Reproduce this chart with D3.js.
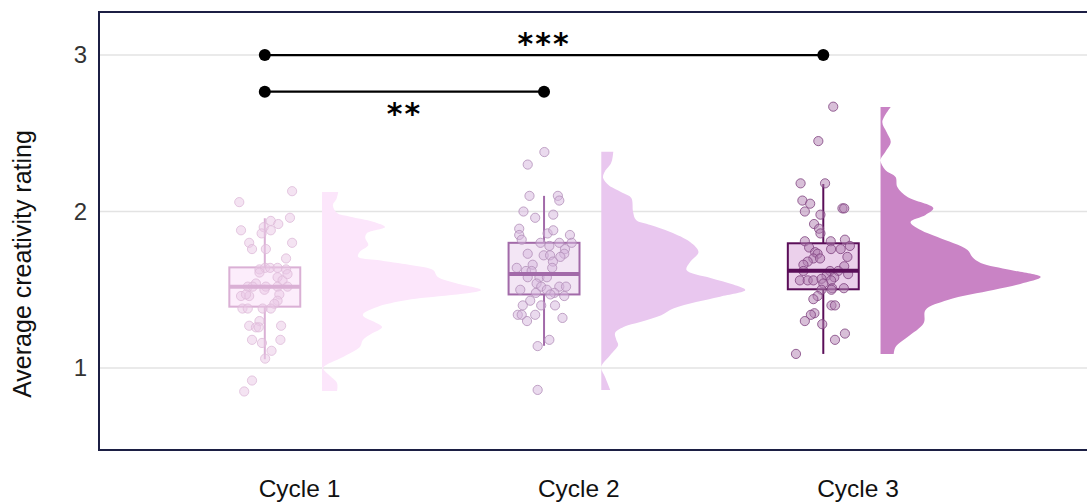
<!DOCTYPE html>
<html>
<head>
<meta charset="utf-8">
<script src="https://cdn.jsdelivr.net/npm/d3@7"></script>
<style>
  html, body { margin: 0; padding: 0; background: #fff; overflow: hidden; }
  svg { display: block; }
</style>
</head>
<body>
<svg id="chart" width="1087" height="502"></svg>
<script>
// ---------------- DATA ----------------
const categories = ["Cycle 1", "Cycle 2", "Cycle 3"];
const yTicks = [1, 2, 3];
const yLabel = "Average creativity rating";

// box-plot statistics: [lower whisker, Q1, median, Q3, upper whisker]
const box1 = [1.056, 1.392, 1.52, 1.643, 1.957];
const box2 = [1.142, 1.47, 1.60, 1.80, 2.10];
const box3 = [1.09, 1.503, 1.622, 1.797, 2.176];

// raw points: [rating, horizontal jitter as fraction of half box width]
const points1 = [
  [2.06,-0.72],[2.13,0.77],[1.88,-0.67],[1.94,0.17],[1.90,-0.03],[1.86,-0.09],[1.88,0.17],
  [1.92,0.38],[1.96,0.71],[1.80,-0.44],[1.76,-0.36],[1.76,0.03],[1.80,0.77],[1.70,0.60],
  [1.63,-0.15],[1.64,0.01],[1.64,0.15],[1.64,0.36],[1.63,0.60],[1.58,0.36],[1.56,0.50],
  [1.60,0.64],[1.54,-0.25],[1.52,-0.48],[1.52,-0.34],[1.52,0.03],[1.52,0.36],[1.52,0.64],
  [1.50,-0.01],[1.46,-0.67],[1.46,-0.44],[1.47,-0.53],[1.47,0.41],[1.43,0.36],[1.41,0.27],
  [1.38,-0.63],[1.38,-0.48],[1.38,-0.06],[1.38,0.17],[1.30,-0.15],[1.27,-0.44],[1.26,-0.25],
  [1.26,-0.17],[1.27,0.46],[1.18,-0.36],[1.18,0.44],[1.16,-0.08],[1.11,0.19],[1.06,0.01],
  [0.92,-0.36],[0.85,-0.58],[1.61,-0.15]
];
const points2 = [
  [2.38,0.01],[2.30,-0.46],[2.10,-0.41],[2.10,0.39],[2.07,0.43],[2.00,-0.58],[1.96,-0.25],
  [1.98,0.26],[1.89,-0.70],[1.85,-0.70],[1.82,-0.63],[1.86,0.10],[1.88,0.26],[1.85,0.73],
  [1.80,-0.10],[1.78,0.15],[1.80,0.43],[1.80,0.78],[1.76,0.59],[1.73,0.57],[1.73,-0.46],
  [1.72,-0.01],[1.72,0.17],[1.71,0.46],[1.68,0.25],[1.66,-0.32],[1.64,-0.77],[1.64,0.23],
  [1.62,-0.51],[1.62,-0.35],[1.58,-0.46],[1.58,-0.13],[1.58,0.08],[1.54,-0.21],[1.52,-0.08],
  [1.50,-0.67],[1.52,0.43],[1.52,0.62],[1.50,0.08],[1.48,0.29],[1.48,-0.23],[1.47,0.18],
  [1.46,0.57],[1.43,-0.39],[1.40,-0.60],[1.40,-0.08],[1.40,0.31],[1.34,-0.74],[1.34,-0.63],
  [1.34,-0.25],[1.30,-0.48],[1.32,0.52],[1.18,0.15],[1.14,-0.18],[0.86,-0.18]
];
const points3 = [
  [2.67,0.28],[2.45,-0.14],[2.18,-0.64],[2.18,0.05],[2.07,-0.59],[2.05,-0.37],[2.00,-0.52],
  [2.02,0.54],[2.02,0.59],[1.98,-0.08],[1.92,-0.26],[1.89,-0.12],[1.86,-0.08],[1.81,-0.52],
  [1.81,0.21],[1.82,0.61],[1.77,-0.40],[1.78,0.75],[1.76,0.22],[1.76,0.49],[1.74,-0.23],
  [1.73,-0.16],[1.70,-0.28],[1.70,-0.09],[1.71,0.68],[1.68,-0.44],[1.66,-0.56],[1.65,0.59],
  [1.62,-0.56],[1.62,0.19],[1.62,0.42],[1.60,0.70],[1.59,0.09],[1.58,0.31],[1.56,-0.66],
  [1.56,-0.44],[1.56,-0.28],[1.57,-0.05],[1.56,0.22],[1.54,0.00],[1.51,0.25],[1.51,0.58],
  [1.50,-0.05],[1.50,0.23],[1.46,-0.16],[1.44,-0.28],[1.40,0.23],[1.40,0.33],[1.35,-0.25],
  [1.34,-0.35],[1.30,-0.52],[1.28,-0.03],[1.22,0.61],[1.18,0.33],[1.09,-0.77]
];

// half-violin density profiles: [rating, density]
const dens1 = [
  [2.125,0.27],[2.08,0.24],[2.042,0.18],[1.99,0.25],[1.967,0.47],[1.935,0.85],[1.901,1.05],
  [1.862,0.75],[1.831,0.72],[1.786,0.77],[1.743,0.63],[1.711,0.60],[1.690,0.92],[1.658,1.47],
  [1.626,1.85],[1.581,1.93],[1.54,2.25],[1.498,2.65],[1.434,1.42],[1.39,0.92],[1.339,0.68],
  [1.262,1.00],[1.22,0.83],[1.179,0.68],[1.134,0.63],[1.070,0.35],[1.0,0.02],[0.95,0.13],
  [0.904,0.25],[0.853,0.25]
];
const dens2 = [
  [2.382,0.20],[2.329,0.18],[2.30,0.15],[2.25,0.05],[2.214,0.03],[2.17,0.12],[2.150,0.20],
  [2.116,0.37],[2.086,0.50],[1.997,0.53],[1.946,0.58],[1.914,0.82],[1.869,1.15],[1.805,1.48],
  [1.741,1.62],[1.677,1.48],[1.626,1.42],[1.575,1.82],[1.533,2.20],[1.498,2.40],[1.456,1.98],
  [1.422,1.58],[1.380,1.20],[1.337,1.00],[1.294,0.65],[1.262,0.37],[1.224,0.23],[1.181,0.25],
  [1.147,0.28],[1.083,0.15],[1.006,0.00],[0.936,0.07],[0.859,0.15]
];
const dens3 = [
  [2.668,0.17],[2.572,0.03],[2.508,0.10],[2.444,0.17],[2.380,0.08],[2.329,0.00],[2.265,0.08],
  [2.220,0.25],[2.157,0.28],[2.093,0.45],[2.022,0.88],[1.978,0.75],[1.933,0.50],[1.882,0.67],
  [1.837,0.95],[1.754,1.45],[1.709,1.53],[1.671,1.67],[1.626,2.17],[1.581,2.67],[1.537,2.33],
  [1.498,1.88],[1.435,1.12],[1.371,0.75],[1.288,0.72],[1.198,0.45],[1.134,0.25],[1.089,0.22]
];

// significance brackets: [from category, to category, height, label, label position]
const sigBars = [
  ["Cycle 1", "Cycle 3", 3.0, "***", "above"],
  ["Cycle 1", "Cycle 2", 2.766, "**", "below"]
];

// ---------------- STYLES ----------------
const styles = [
  { dens: "#fce6fb", boxFill: "#fcedfb", boxStroke: "#dab0d5", ptFill: "rgba(234,200,230,0.5)", ptStroke: "#dfbbda" },
  { dens: "#e9c7ef", boxFill: "#f3e6f5", boxStroke: "#a26aa9", ptFill: "rgba(214,182,222,0.5)", ptStroke: "#b390b9" },
  { dens: "#c983c5", boxFill: "#ebd0eb", boxStroke: "#5a0e58", ptFill: "rgba(178,128,178,0.5)", ptStroke: "#7f4280" }
];
const boxes = [box1, box2, box3];
const pointSets = [points1, points2, points3];
const densSets = [dens1, dens2, dens3];

// ---------------- LAYOUT ----------------
const svg = d3.select("#chart");
const W = 1087, H = 502;
const plot = { left: 99, top: 12, bottom: 450, right: 1100 };

const x = d3.scalePoint().domain(categories).range([299, 857.5]);
const step = x.step();
const boxOffset = -0.1225 * step;   // box nudged left of category
const densOffset = 0.0825 * step;   // density nudged right
const boxHalf = 0.127 * step;

const y = d3.scaleLinear().domain([0.476, 3.275]).range([plot.bottom, plot.top]);
const dx = d3.scaleLinear().domain([0, 1]).range([0, 60]);
const jit = d3.scaleLinear().domain([-1, 1]).range([-boxHalf, boxHalf]);

// gridlines
svg.append("g").selectAll("line").data(yTicks).join("line")
  .attr("x1", plot.left).attr("x2", W)
  .attr("y1", d => y(d)).attr("y2", d => y(d))
  .attr("stroke", "#e3e3e3").attr("stroke-width", 1.5);

// y axis (labels only)
const yAxis = d3.axisLeft(y).tickValues(yTicks).tickSize(0).tickPadding(12).tickFormat(d3.format("d"));
const gy = svg.append("g").attr("transform", `translate(${plot.left},0)`).call(yAxis);
gy.select(".domain").remove();
gy.selectAll("text").attr("font-family", "Liberation Sans, Arial, sans-serif")
  .attr("font-size", 24).attr("fill", "#333");

// y title
svg.append("text")
  .attr("transform", `translate(31,264) rotate(-90)`)
  .attr("text-anchor", "middle")
  .attr("font-family", "Liberation Sans, Arial, sans-serif")
  .attr("font-size", 25).attr("fill", "#111")
  .text(yLabel);

// x axis labels
const xAxis = d3.axisBottom(x).tickSize(0).tickPadding(0);
const gx = svg.append("g").attr("transform", `translate(0,${plot.bottom})`).call(xAxis);
gx.select(".domain").remove();
gx.selectAll("text").attr("font-family", "Liberation Sans, Arial, sans-serif")
  .attr("font-size", 24.5).attr("fill", "#111").attr("dy", null).attr("y", 47);

// densities (half violins)
categories.forEach((c, i) => {
  const base = x(c) + densOffset;
  const area = d3.area()
    .y(d => y(d[0]))
    .x0(base)
    .x1(d => base + dx(d[1]))
    .curve(d3.curveCatmullRom.alpha(0.5));
  svg.append("path").datum(densSets[i])
    .attr("d", area)
    .attr("fill", styles[i].dens);
});

// boxes
categories.forEach((c, i) => {
  const cx = x(c) + boxOffset;
  const b = boxes[i];
  const s = styles[i];
  const g = svg.append("g");
  g.append("line").attr("x1", cx).attr("x2", cx).attr("y1", y(b[0])).attr("y2", y(b[1]))
    .attr("stroke", s.boxStroke).attr("stroke-width", 2);
  g.append("line").attr("x1", cx).attr("x2", cx).attr("y1", y(b[3])).attr("y2", y(b[4]))
    .attr("stroke", s.boxStroke).attr("stroke-width", 2);
  g.append("rect").attr("x", cx - boxHalf).attr("width", 2 * boxHalf)
    .attr("y", y(b[3])).attr("height", y(b[1]) - y(b[3]))
    .attr("fill", s.boxFill).attr("stroke", s.boxStroke).attr("stroke-width", 2);
});

// points
categories.forEach((c, i) => {
  const cx = x(c) + boxOffset;
  const s = styles[i];
  svg.append("g").selectAll("circle").data(pointSets[i]).join("circle")
    .attr("cx", d => cx + jit(d[1]))
    .attr("cy", d => y(d[0]))
    .attr("r", 4.6)
    .attr("fill", s.ptFill)
    .attr("stroke", s.ptStroke).attr("stroke-opacity", 0.8).attr("stroke-width", 1);
});

// medians on top
categories.forEach((c, i) => {
  const cx = x(c) + boxOffset;
  const b = boxes[i];
  svg.append("line").attr("x1", cx - boxHalf).attr("x2", cx + boxHalf)
    .attr("y1", y(b[2])).attr("y2", y(b[2]))
    .attr("stroke", styles[i].boxStroke).attr("stroke-width", 4);
});

// significance bars
sigBars.forEach(s => {
  const x1 = x(s[0]) + boxOffset, x2 = x(s[1]) + boxOffset, yy = y(s[2]);
  const g = svg.append("g");
  g.append("line").attr("x1", x1).attr("x2", x2).attr("y1", yy).attr("y2", yy)
    .attr("stroke", "#000").attr("stroke-width", 2.2);
  g.selectAll("circle").data([x1, x2]).join("circle")
    .attr("cx", d => d).attr("cy", yy).attr("r", 6).attr("fill", "#000");
  g.append("text")
    .attr("x", (x1 + x2) / 2)
    .attr("y", s[4] === "above" ? yy - 1 : yy + 32)
    .attr("text-anchor", "middle")
    .attr("font-family", "DejaVu Sans, sans-serif").attr("font-weight", "bold")
    .attr("font-size", 30).attr("letter-spacing", 2)
    .attr("fill", "#000")
    .text(s[3]);
});

// panel frame (right side runs off canvas)
svg.append("path")
  .attr("d", `M${plot.right},${plot.top}H${plot.left}V${plot.bottom}H${plot.right}`)
  .attr("fill", "none").attr("stroke", "#1c1f44").attr("stroke-width", 2);
</script>
</body>
</html>
